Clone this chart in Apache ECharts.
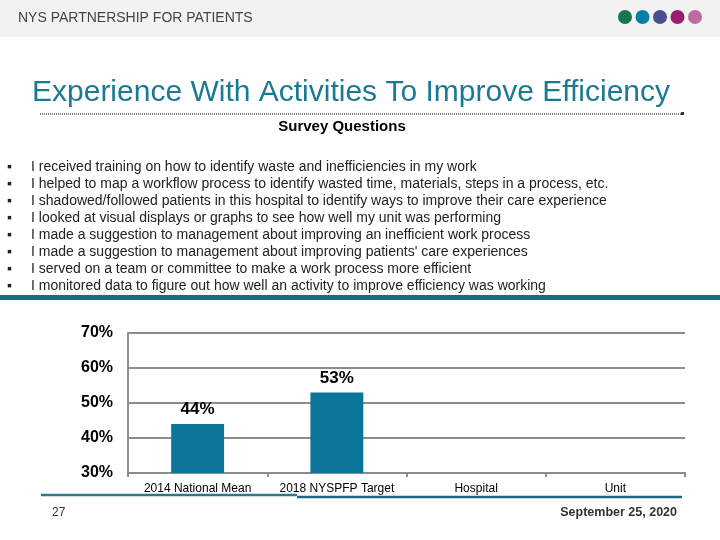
<!DOCTYPE html>
<html>
<head>
<meta charset="utf-8">
<script src="https://cdn.jsdelivr.net/npm/echarts@6/dist/echarts.min.js"></script>
<style>
html, body { margin: 0; padding: 0; background: #fff; }
#main { width: 720px; height: 540px; }
</style>
</head>
<body>
<div id="main"></div>
<script>
// data
var categories = ['2014 National Mean', '2018 NYSPFP Target', 'Hospital', 'Unit'];
var values = [44, 53, null, null];
var questions = [
	'I received training on how to identify waste and inefficiencies in my work',
	'I helped to map a workflow process to identify wasted time, materials, steps in a process, etc.',
	'I shadowed/followed patients in this hospital to identify ways to improve their care experience',
	'I looked at visual displays or graphs to see how well my unit was performing',
	'I made a suggestion to management about improving an inefficient work process',
	"I made a suggestion to management about improving patients' care experiences",
	'I served on a team or committee to make a work process more efficient',
	'I monitored data to figure out how well an activity to improve efficiency was working'
];
var dotColors = ['#17784a', '#0a7fa6', '#4a4f8c', '#9a1d6e', '#bf6aa2'];

var font = 'Liberation Sans, Arial, sans-serif';
var teal = '#0b7699';

var myChart = echarts.init(document.getElementById('main'));

// slide furniture
var graphics = [
	{ type: 'rect', shape: { x: 0, y: 0, width: 720, height: 37 }, style: { fill: '#f2f2f2' } },
	{ type: 'text', x: 18, y: 18, style: { text: 'NYS PARTNERSHIP FOR PATIENTS', font: '14px ' + font, fill: '#444', textVerticalAlign: 'middle' } },
	{ type: 'text', x: 32, y: 93, style: { text: 'Experience With Activities To Improve Efficiency', font: '30px ' + font, fill: '#1a7a93', textVerticalAlign: 'middle' } },
	{ type: 'line', shape: { x1: 40, y1: 114, x2: 681, y2: 114 }, style: { stroke: '#555', lineWidth: 1.5, lineDash: [1, 1] } },
	{ type: 'rect', shape: { x: 681, y: 112, width: 3, height: 3 }, style: { fill: '#333' } },
	{ type: 'text', x: 342, y: 127, style: { text: 'Survey Questions', font: 'bold 15px ' + font, fill: '#000', textAlign: 'center', textVerticalAlign: 'middle' } },
	{ type: 'rect', shape: { x: 0, y: 295, width: 720, height: 5 }, style: { fill: '#1b6a80' } },
	{ type: 'line', shape: { x1: 41, y1: 495, x2: 297, y2: 495 }, style: { stroke: '#2a7a8c', lineWidth: 2.5 } },
	{ type: 'line', shape: { x1: 297, y1: 497, x2: 682, y2: 497 }, style: { stroke: '#1b6a80', lineWidth: 2.5 } },
	{ type: 'text', x: 52, y: 513, style: { text: '27', font: '12px ' + font, fill: '#333', textVerticalAlign: 'middle' } },
	{ type: 'text', x: 677, y: 513, style: { text: 'September 25, 2020', font: 'bold 12.5px ' + font, fill: '#333', textAlign: 'right', textVerticalAlign: 'middle' } }
];
for (var i = 0; i < dotColors.length; i++) {
	graphics.push({ type: 'circle', shape: { cx: 625 + i * 17.5, cy: 17, r: 7 }, style: { fill: dotColors[i] } });
}
for (var i = 0; i < questions.length; i++) {
	graphics.push({ type: 'text', x: 7, y: 167 + i * 17, style: { text: '\u25aa', font: '14px ' + font, fill: '#222', textVerticalAlign: 'middle' } });
	graphics.push({ type: 'text', x: 31, y: 167 + i * 17, style: { text: questions[i], font: '14px ' + font, fill: '#222', textVerticalAlign: 'middle' } });
}

var option = {
	animation: false,
	graphic: graphics,
	grid: { left: 128, right: 35, top: 333, bottom: 67 },
	xAxis: {
		type: 'category',
		data: categories,
		axisLine: { lineStyle: { color: '#8c8c8c', width: 2 } },
		axisTick: { show: true, interval: 0, length: 4, lineStyle: { color: '#8c8c8c', width: 2 } },
		axisLabel: { interval: 0, color: '#000', fontSize: 12, fontFamily: font, margin: 10 }
	},
	yAxis: {
		type: 'value',
		min: 30,
		max: 70,
		interval: 10,
		axisLine: { show: true, lineStyle: { color: '#8c8c8c', width: 2 } },
		axisTick: { show: false },
		splitLine: { lineStyle: { color: '#8c8c8c', width: 2 } },
		axisLabel: { formatter: '{value}%', color: '#000', fontSize: 16, fontWeight: 'bold', fontFamily: font, margin: 15 }
	},
	series: [{
		type: 'bar',
		data: values,
		barWidth: '38%',
		itemStyle: { color: teal },
		label: {
			show: true,
			position: 'top',
			distance: 6,
			formatter: '{c}%',
			color: '#000',
			fontSize: 17,
			fontWeight: 'bold',
			fontFamily: font
		}
	}]
};

myChart.setOption(option);
</script>
</body>
</html>
